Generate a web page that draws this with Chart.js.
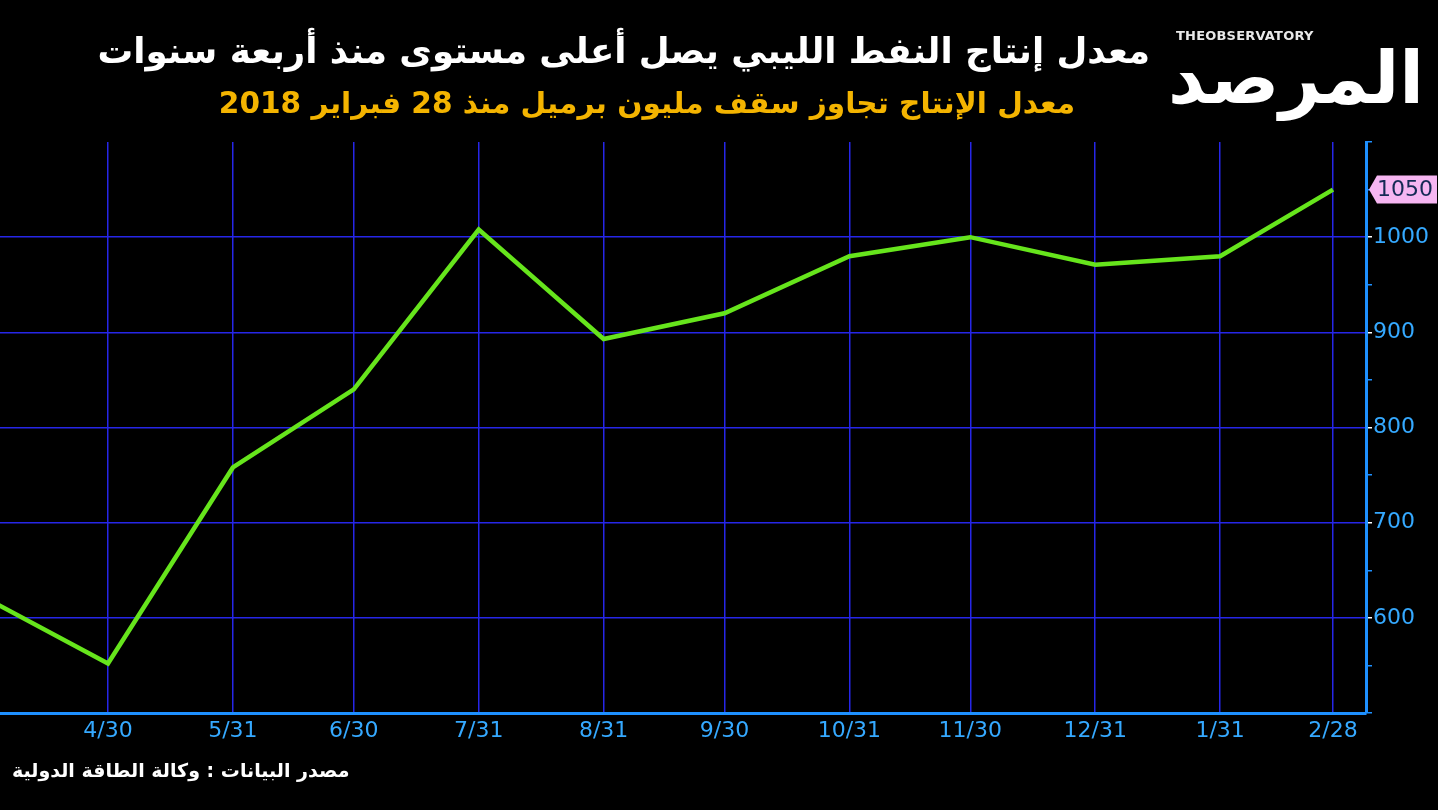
<!DOCTYPE html>
<html lang="ar">
<head>
    <meta charset="UTF-8">
    <title>Libya oil production</title>
    <script src="https://cdn.jsdelivr.net/npm/chart.js"></script>
    <style>
        html, body { margin: 0; padding: 0; background: #000; }
        #wrap { position: relative; width: 1438px; height: 810px; background: #000; overflow: hidden; }
        #chartBox { position: absolute; left: 0; top: 0; width: 1438px; height: 810px; }
        .txt { position: absolute; white-space: nowrap; font-family: "DejaVu Sans", sans-serif; font-weight: bold; direction: rtl; }
        #title { right: 288px; top: 30px; font-size: 35.6px; color: #fff; }
        #subtitle { right: 363px; top: 86px; font-size: 29.6px; color: #f4b400; }
        #source { left: 12px; top: 759px; font-size: 19px; color: #fff; }
        #brandEn { left: 1176px; top: 28px; font-size: 13px; color: #e8e8e8; direction: ltr; letter-spacing: 0.2px; }
        #brandAr { right: 14px; top: 36px; font-size: 72px; color: #fff; }
    </style>
</head>
<body>
<div id="wrap">
    <div id="chartBox"><canvas id="chart"></canvas></div>
    <div class="txt" id="title">معدل إنتاج النفط الليبي يصل أعلى مستوى منذ أربعة سنوات</div>
    <div class="txt" id="subtitle">معدل الإنتاج تجاوز سقف مليون برميل منذ 28 فبراير 2018</div>
    <div class="txt" id="brandEn">THE<span style="font-weight:900">OBSERVATORY</span></div>
    <div class="txt" id="brandAr">المرصد</div>
    <div class="txt" id="source">مصدر البيانات : وكالة الطاقة الدولية</div>
</div>
<script>
    // month-end dates and production (thousand barrels per day)
    const dates = ['2017-03-31', '2017-04-30', '2017-05-31', '2017-06-30', '2017-07-31', '2017-08-31',
                   '2017-09-30', '2017-10-31', '2017-11-30', '2017-12-31', '2018-01-31', '2018-02-28'];
    const tickLabels = ['3/31', '4/30', '5/31', '6/30', '7/31', '8/31', '9/30', '10/31', '11/30', '12/31', '1/31', '2/28'];
    const production = [620, 552, 758, 840, 1008, 893, 920, 980, 1000, 971, 980, 1050];

    const base = Date.parse('2017-04-30');
    const days = dates.map(d => Math.round((Date.parse(d) - base) / 86400000));
    const points = days.map((d, i) => ({ x: d, y: production[i] }));

    const GRID = '#2626e8';
    const AXIS = '#1e90ff';
    const LABEL = '#35a9ff';

    // pink box with the last value, pointing at the axis
    const lastValueTag = {
        id: 'lastValueTag',
        afterDraw(chart) {
            const ctx = chart.ctx;
            const yScale = chart.scales.y;
            const last = production[production.length - 1];
            const y = yScale.getPixelForValue(last);
            const x0 = chart.chartArea.right + 3;
            const w = 68, h = 28;
            ctx.save();
            ctx.fillStyle = '#f6b6f2';
            ctx.beginPath();
            ctx.moveTo(x0, y);
            ctx.lineTo(x0 + 8, y - h / 2);
            ctx.lineTo(x0 + w, y - h / 2);
            ctx.lineTo(x0 + w, y + h / 2);
            ctx.lineTo(x0 + 8, y + h / 2);
            ctx.closePath();
            ctx.fill();
            ctx.fillStyle = '#142a55';
            ctx.font = '22px "DejaVu Sans"';
            ctx.textAlign = 'left';
            ctx.textBaseline = 'middle';
            ctx.fillText(String(last), x0 + 8, y + 1);
            ctx.restore();
        }
    };

    new Chart(document.getElementById('chart'), {
        type: 'line',
        data: {
            datasets: [{
                label: 'production',
                data: points,
                borderColor: '#66e51c',
                borderWidth: 4.5,
                pointRadius: 0,
                tension: 0,
                fill: false
            }]
        },
        options: {
            responsive: true,
            maintainAspectRatio: false,
            animation: false,
            layout: { padding: { top: 142, left: 0, right: 0, bottom: 57 } },
            plugins: { legend: { display: false }, tooltip: { enabled: false } },
            scales: {
                x: {
                    type: 'linear',
                    min: -26.8,
                    max: 312.2,
                    afterBuildTicks: s => { s.ticks = days.filter(d => d >= s.min && d <= s.max).map(v => ({ value: v })); },
                    afterFit: s => { s.height = 40; },
                    grid: { color: GRID, lineWidth: 1.5, drawTicks: false },
                    border: { color: AXIS, width: 3 },
                    ticks: {
                        color: LABEL,
                        font: { family: 'DejaVu Sans', size: 22 },
                        padding: 5,
                        maxRotation: 0,
                        autoSkip: false,
                        callback: v => tickLabels[days.indexOf(v)]
                    }
                },
                y: {
                    position: 'right',
                    min: 500,
                    max: 1100,
                    afterFit: s => { s.width = 72; },
                    grid: {
                        color: c => (c.tick && c.tick.value % 100 === 0 && c.tick.value > 500 && c.tick.value < 1100) ? GRID : 'rgba(0,0,0,0)',
                        tickColor: c => (c.tick && c.tick.value % 100 === 0 && c.tick.value > 500 && c.tick.value < 1100) ? '#ffffff' : AXIS,
                        lineWidth: 1.5,
                        tickLength: 6
                    },
                    border: { color: AXIS, width: 3 },
                    ticks: {
                        stepSize: 50,
                        color: LABEL,
                        font: { family: 'DejaVu Sans', size: 22 },
                        padding: 1,
                        callback: v => (v % 100 === 0 && v > 500 && v < 1100) ? String(v) : ''
                    }
                }
            }
        },
        plugins: [lastValueTag]
    });
</script>
</body>
</html>
